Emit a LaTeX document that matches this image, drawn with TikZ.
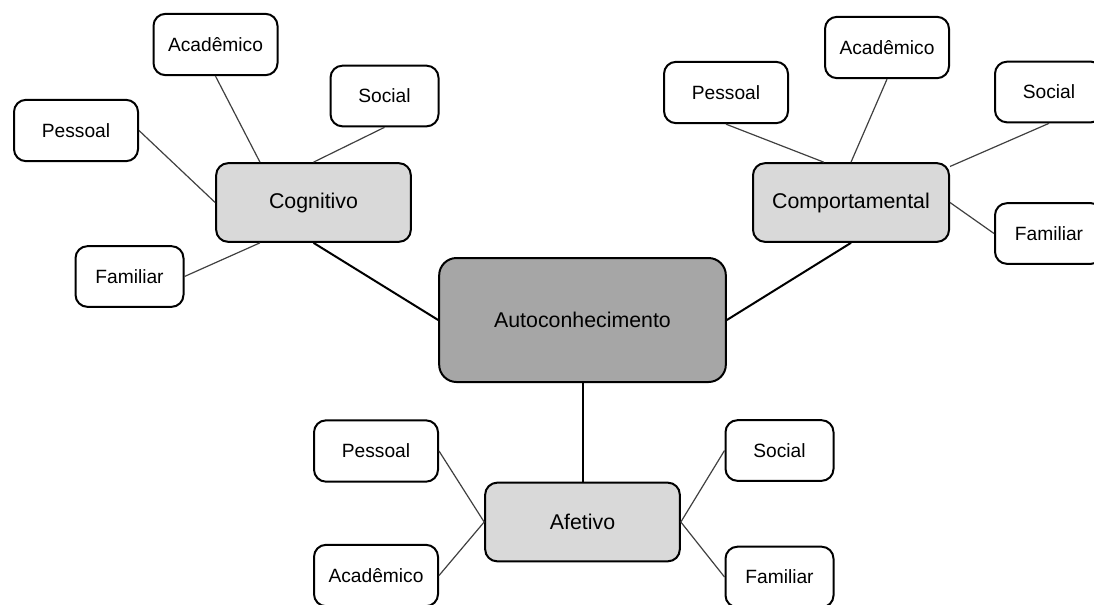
\documentclass[tikz,border=0pt]{standalone}
\usepackage{fontspec}
\setmainfont{Liberation Sans}
\usepackage{tikz}

\begin{document}
\begin{tikzpicture}[x=0.75pt,y=0.75pt,yscale=-1,xscale=1,
  box/.style={draw, line width=1.5pt, rounded corners=9pt, inner sep=0pt, align=center, fill=white},
  centerbox/.style={box, rounded corners=13pt, fill={rgb, 255:red, 166; green, 166; blue, 166 }, minimum width=215pt, minimum height=93pt, font=\fontsize{16}{19}\selectfont},
  areabox/.style={box, fill={rgb, 255:red, 217; green, 217; blue, 217 }, minimum width=146pt, minimum height=59pt, font=\fontsize{16}{19}\selectfont},
  wide/.style={box, minimum width=93pt, minimum height=46pt, font=\fontsize{14.4}{17}\selectfont},
  narrow/.style={box, minimum width=81pt, minimum height=45.5pt, font=\fontsize{14.4}{17}\selectfont},
  mainline/.style={line width=1.5pt},
  subline/.style={line width=0.9pt, color={rgb, 255:red, 64; green, 64; blue, 64 }}]
%set diagram size: 1094 x 604
\path[use as bounding box] (0,0) rectangle (1094,604);

%Shape: Rounded Rect, centre
\node [centerbox] (auto) at (582.5,320) {Autoconhecimento};
%Shape: Rounded Rect, three areas
\node [areabox] (cog) at (313.5,202.5) {Cognitivo};
\node [areabox, minimum width=147pt] (comp) at (851,202.5) {Comportamental};
\node [areabox] (afet) at (582.5,522) {Afetivo};

%Cognitivo leaves
\node [wide] (cogAcad) at (215.5,44.5) {Acadêmico};
\node [narrow] (cogSoc) at (384.5,96) {Social};
\node [wide] (cogPes) at (76,130.5) {Pessoal};
\node [narrow] (cogFam) at (129.5,276.5) {Familiar};

%Comportamental leaves
\node [wide] (compPes) at (726,92.5) {Pessoal};
\node [wide] (compAcad) at (887,47.5) {Acadêmico};
\node [narrow] (compSoc) at (1049,92) {Social};
\node [narrow] (compFam) at (1049,233.5) {Familiar};

%Afetivo leaves
\node [wide] (afetPes) at (376,451) {Pessoal};
\node [wide] (afetAcad) at (376,575.5) {Acadêmico};
\node [narrow] (afetSoc) at (779.5,450.5) {Social};
\node [narrow] (afetFam) at (779.5,577) {Familiar};

%Straight Lines, centre to areas
\draw [mainline] (cog.south) -- (auto.west) ;
\draw [mainline] (comp.south) -- (auto.east) ;
\draw [mainline] (auto.south) -- (afet.north) ;

%Straight Lines, areas to leaves
\draw [subline] (cogAcad.south) -- (cog.143) ;
\draw [subline] (cogSoc.south) -- (cog.north) ;
\draw [subline] (cogPes.east) -- (cog.west) ;
\draw [subline] (cogFam.east) -- (cog.217) ;

\draw [subline] (compPes.south) -- (comp.124) ;
\draw [subline] (compAcad.south) -- (comp.north) ;
\draw [subline] (compSoc.south) -- (comp.20) ;
\draw [subline] (compFam.west) -- (comp.east) ;

\draw [subline] (afetPes.east) -- (afet.west) ;
\draw [subline] (afetAcad.east) -- (afet.west) ;
\draw [subline] (afetSoc.west) -- (afet.east) ;
\draw [subline] (afetFam.west) -- (afet.east) ;

\end{tikzpicture}
\end{document}
